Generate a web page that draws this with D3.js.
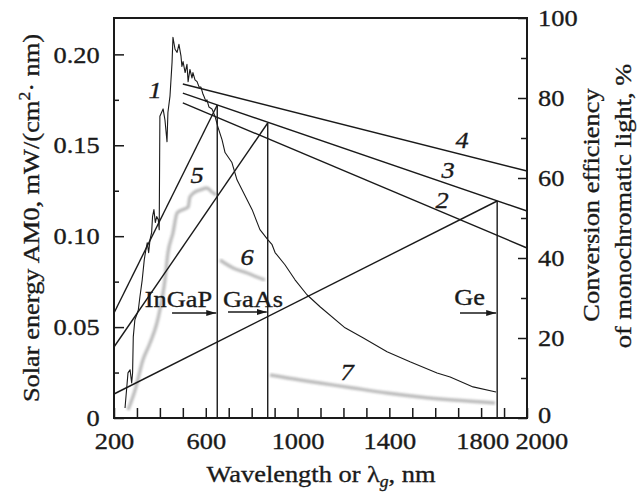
<!DOCTYPE html>
<html><head><meta charset="utf-8">
<script src="https://cdn.jsdelivr.net/npm/d3@7"></script>
<style>html,body{margin:0;padding:0;background:#fff}svg{display:block}text{font-family:"Liberation Serif","Times New Roman",serif}</style>
</head><body><svg id="c" width="640" height="492"></svg>
<script>
// ---- data ----
const solarWl=[248,261,270,277,281,284,291,299,306,313,323,332,339,345,351,357,364,368,374,380,386,393,397,400,414,422,431,435,444,453,457,466,475,483,492,496,501,510,518,523,531,540,544,553,562,571,579,588,592,601,605,614,627,640,653,671,684,714,736,780,802,836,871,889,902,945,989,1041,1098,1207,1285,1390,1490,1608,1665,1765,1865];
const solarE=[0.0055,0.0248,0.0265,0.0193,0.0248,0.0446,0.054,0.0568,0.0595,0.0667,0.076,0.0871,0.0926,0.0964,0.0909,0.0981,0.102,0.1108,0.1146,0.1075,0.1108,0.1091,0.1036,0.166,0.170,0.164,0.152,0.168,0.177,0.1956,0.2094,0.2028,0.2011,0.2055,0.199,0.1934,0.196,0.190,0.1945,0.185,0.1917,0.187,0.190,0.186,0.185,0.182,0.182,0.178,0.177,0.174,0.175,0.171,0.170,0.166,0.160,0.153,0.146,0.1405,0.131,0.120,0.1146,0.1036,0.098,0.0953,0.091,0.0843,0.076,0.0678,0.0612,0.0496,0.0441,0.0364,0.0309,0.0248,0.0226,0.0171,0.0143];

const c5Wl=[261,292,326,357,387,400,422,435,457,475,496,523,531,553,575,605,627,645];
const c5Eff=[2,7,14.5,18.75,23.75,27,34.5,41.25,46.25,51.25,52,52.75,55.25,56.5,57,57.5,56.5,55.75];
const c6Wl=[662,719,780,823,858];
const c6Eff=[39.5,37.5,36.25,35.25,34.5];
const c7Wl=[880,1011,1098,1242,1390,1534,1678,1861];
const c7Eff=[10.75,9.5,8.75,7.5,6.25,5.25,4.5,3.75];

// limit efficiency lines 2,3,4
const limitNames=["2","3","4"];
const limitWl=[500,2000];
const limitEffStart=[78.8,81.2,83.5];
const limitEffEnd=[42.5,51.75,61.75];

// band gap lines
const gapNames=["InGaP","GaAs","Ge"];
const gapWl=[650,870,1870];
const gapEffAt200=[26.25,17.75,6];
const gapEffTop=[78.25,73.75,54.25];

// curve labels
const curveLabelText=["1","5","6","7","4","3","2"];
const curveLabelWl=[379,562,780,1216,1717,1656,1630];
const curveLabelEff=[82,60.75,40.25,11.5,69.5,62,54.5];

// band labels & arrows
const bandLabelWl=[481,806,1750];
const bandLabelEff=[27.75,27.75,28.25];
const arrowStartWl=[453,697,1708];
const arrowEff=[26.25,26.5,26.25];

const xTicks=d3.range(200,2001,100);
const xLabels=[200,600,1000,1400,1800,2000];
const yLeftMajor=[0,0.05,0.10,0.15,0.20];
const yLeftMinor=[0.025,0.075,0.125,0.175];
const yRightMajor=[0,20,40,60,80,100];
const yRightMinor=[10,30,50,70,90];

// ---- layout ----
const W=640,H=492, m={l:114,t:18,r:113,b:74};
const FS=24, SX=1.1, TSW=0.35;
const svg=d3.select("#c");
const x=d3.scaleLinear([200,2000],[m.l,W-m.r]);
const yL=d3.scaleLinear([0,0.22],[H-m.b,m.t]);
const yR=d3.scaleLinear([0,100],[H-m.b,m.t]);
const ink="#1a1a1a";

const defs=svg.append("defs");
defs.append("filter").attr("id","blur").attr("x","-10%").attr("y","-10%").attr("width","120%").attr("height","120%")
  .append("feGaussianBlur").attr("stdDeviation",1.0);
defs.append("marker").attr("id","arr").attr("viewBox","0 0 10 6").attr("refX",10).attr("refY",3)
  .attr("markerWidth",10).attr("markerHeight",6).attr("markerUnits","userSpaceOnUse").attr("orient","auto")
  .append("path").attr("d","M0,0L10,3L0,6Z").attr("fill",ink);

// gray curves (right axis)
const lineR=d3.line().x(d=>x(d[0])).y(d=>yR(d[1])).curve(d3.curveMonotoneX);
[[c5Wl,c5Eff],[c6Wl,c6Eff],[c7Wl,c7Eff]].forEach(([w,e])=>{
  svg.append("path").datum(w.map((v,i)=>[v,e[i]])).attr("d",lineR)
    .attr("fill","none").attr("stroke","#909090").attr("stroke-width",3.4).attr("opacity",0.6)
    .attr("filter","url(#blur)");
});

// solar spectrum (left axis)
const lineL=d3.line().x(d=>x(d[0])).y(d=>yL(d[1]));
svg.append("path").datum(solarWl.map((v,i)=>[v,solarE[i]])).attr("d",lineL)
  .attr("fill","none").attr("stroke",ink).attr("stroke-width",1.1).attr("stroke-linejoin","round");

// limit lines
limitNames.forEach((n,i)=>{
  svg.append("line").attr("x1",x(limitWl[0])).attr("y1",yR(limitEffStart[i]))
    .attr("x2",x(limitWl[1])).attr("y2",yR(limitEffEnd[i]))
    .attr("stroke",ink).attr("stroke-width",1.4);
});
// band gap lines
gapNames.forEach((n,i)=>{
  svg.append("line").attr("x1",x(200)).attr("y1",yR(gapEffAt200[i]))
    .attr("x2",x(gapWl[i])).attr("y2",yR(gapEffTop[i])).attr("stroke",ink).attr("stroke-width",1.4);
  svg.append("line").attr("x1",x(gapWl[i])).attr("y1",yR(gapEffTop[i]))
    .attr("x2",x(gapWl[i])).attr("y2",yR(0)).attr("stroke",ink).attr("stroke-width",1.4);
  svg.append("line").attr("x1",x(arrowStartWl[i])).attr("y1",yR(arrowEff[i]))
    .attr("x2",x(gapWl[i])-1).attr("y2",yR(arrowEff[i])).attr("stroke",ink).attr("stroke-width",1.3)
    .attr("marker-end","url(#arr)");
  const g=svg.append("g").attr("transform",`translate(${x(bandLabelWl[i])},${yR(bandLabelEff[i])}) scale(${SX},1)`);
  g.append("text").attr("text-anchor","middle").attr("font-size",FS).attr("fill",ink)
    .attr("stroke",ink).attr("stroke-width",TSW).text(n);
});

// curve labels
curveLabelText.forEach((t,i)=>{
  const g=svg.append("g").attr("transform",`translate(${x(curveLabelWl[i])},${yR(curveLabelEff[i])}) scale(${SX},1)`);
  g.append("text").attr("text-anchor","middle").attr("dy","0.35em").attr("font-size",FS)
    .attr("font-style","italic").attr("fill",ink).attr("stroke",ink).attr("stroke-width",TSW).text(t);
});

// ---- axes ----
function styleAxis(g){
  g.attr("font-family",null).attr("font-size",null);
  g.select(".domain").remove();
  g.selectAll("line").attr("stroke",ink).attr("stroke-width",1.5);
  g.selectAll("text").attr("font-size",FS).attr("fill",ink).attr("stroke",ink).attr("stroke-width",TSW)
    .attr("transform",`scale(${SX},1)`);
}
const fmtX=d=>xLabels.includes(d)?String(d):"";
svg.append("g").attr("transform",`translate(0,${H-m.b})`)
  .call(d3.axisBottom(x).tickValues(xTicks).tickFormat(fmtX).tickSize(-10).tickPadding(14)).call(styleAxis)
  .call(g=>g.selectAll(".tick text").filter(d=>d===2000).attr("x",13))
  .call(g=>g.selectAll(".tick text").filter(d=>d===1800).attr("x",1));
svg.append("g").attr("transform",`translate(${m.l},0)`)
  .call(d3.axisLeft(yL).tickValues(yLeftMajor).tickFormat(d=>d===0?"0":d3.format(".2f")(d)).tickSize(-10).tickPadding(13)).call(styleAxis);
svg.append("g").attr("transform",`translate(${m.l},0)`)
  .call(d3.axisLeft(yL).tickValues(yLeftMinor).tickFormat("").tickSize(-5)).call(styleAxis);
svg.append("g").attr("transform",`translate(${W-m.r},0)`)
  .call(d3.axisRight(yR).tickValues(yRightMajor).tickSize(-9).tickPadding(10)).call(styleAxis)
  .call(g=>g.selectAll(".tick text").filter(d=>d===0).attr("dy","0.18em"));
svg.append("g").attr("transform",`translate(${W-m.r},0)`)
  .call(d3.axisRight(yR).tickValues(yRightMinor).tickFormat("").tickSize(-6)).call(styleAxis);

// frame
svg.append("rect").attr("x",m.l).attr("y",m.t).attr("width",W-m.l-m.r).attr("height",H-m.t-m.b)
  .attr("fill","none").attr("stroke",ink).attr("stroke-width",2);

// titles
function title(xp,yp,rot,build){
  const g=svg.append("g").attr("transform",`translate(${xp},${yp}) rotate(${rot}) scale(${SX},1)`);
  const t=g.append("text").attr("text-anchor","middle").attr("font-size",FS).attr("fill",ink)
    .attr("stroke",ink).attr("stroke-width",TSW);
  build(t);
}
title(321,482,0,t=>{
  t.append("tspan").text("Wavelength or λ");
  t.append("tspan").attr("font-size",16).attr("font-style","italic").attr("dy",5).text("g");
  t.append("tspan").attr("dy",-5).text(", nm");
});
title(39,218,-90,t=>{
  t.append("tspan").text("Solar energy AM0, mW/(cm");
  t.append("tspan").attr("font-size",16).attr("dy",-9).text("2");
  t.append("tspan").attr("dy",9).text("· nm)");
});
title(599,205,-90,t=>t.text("Conversion efficiency"));
title(631,206,-90,t=>t.text("of monochromatic light, %"));
</script></body></html>
